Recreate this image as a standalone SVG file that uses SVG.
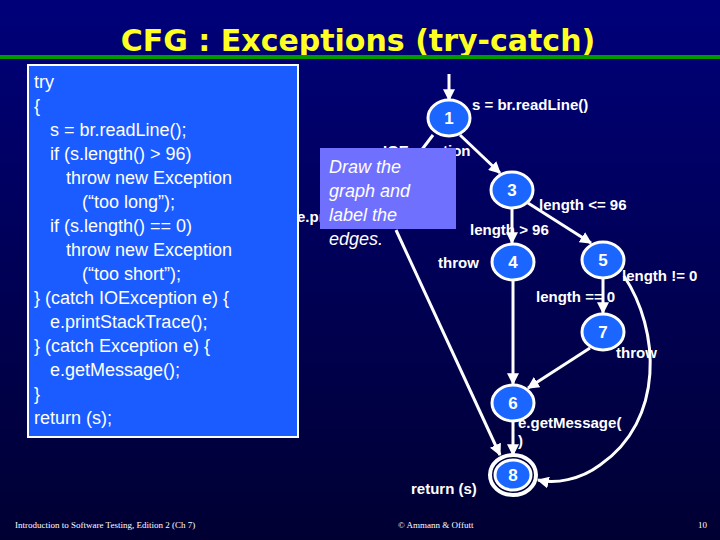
<svg xmlns="http://www.w3.org/2000/svg" width="720" height="540" viewBox="0 0 720 540">
<defs>
<linearGradient id="bg" x1="0" y1="0" x2="0" y2="1"><stop offset="0" stop-color="#00007a"/><stop offset="1" stop-color="#000033"/></linearGradient>
<marker id="ah" viewBox="0 0 10 10" refX="9" refY="5" markerWidth="4" markerHeight="4" orient="auto"><path d="M0,0L10,5L0,10z" fill="#fff"/></marker>
<style>
.n{fill:#1a66ff;stroke:#fff;stroke-width:3}
.nt{font-family:"Liberation Sans",Arial,sans-serif;font-weight:bold;font-size:17px;fill:#fff;text-anchor:middle}
.l{font-family:"Liberation Sans",Arial,sans-serif;font-weight:bold;font-size:15px;fill:#fff}
.c{font-family:"Liberation Sans",Arial,sans-serif;font-size:18px;fill:#fff}
.e{stroke:#fff;stroke-width:3;fill:none;marker-end:url(#ah)}
.f{font-family:"Liberation Serif",serif;font-size:9px;fill:#fff}
</style>
</defs>
<rect width="720" height="540" fill="url(#bg)"/>
<text x="358" y="51" text-anchor="middle" font-family="DejaVu Sans,sans-serif" font-weight="bold" font-size="30" fill="#ffff22">CFG : Exceptions (try-catch)</text>
<rect x="0" y="55" width="720" height="4" fill="#009900"/>
<g id="code">
<rect x="28" y="65" width="270" height="372" fill="#1a5cff" stroke="#fff" stroke-width="2"/>
<text class="c" x="34" y="88">try</text>
<text class="c" x="34" y="112">{</text>
<text class="c" x="50" y="136">s = br.readLine();</text>
<text class="c" x="50" y="160">if (s.length() &gt; 96)</text>
<text class="c" x="66" y="184">throw new Exception</text>
<text class="c" x="82" y="208">(“too long”);</text>
<text class="c" x="50" y="232">if (s.length() == 0)</text>
<text class="c" x="66" y="256">throw new Exception</text>
<text class="c" x="82" y="280">(“too short”);</text>
<text class="c" x="34" y="304">} (catch IOException e) {</text>
<text class="c" x="50" y="328">e.printStackTrace();</text>
<text class="c" x="34" y="352">} (catch Exception e) {</text>
<text class="c" x="50" y="376">e.getMessage();</text>
<text class="c" x="34" y="400">}</text>
<text class="c" x="34" y="424">return (s);</text>
</g>
<g id="connectors">
<line class="e" x1="449" y1="74" x2="449" y2="100"/>
<line class="e" x1="460" y1="135" x2="500" y2="173"/>
<line class="e" x1="433" y1="135" x2="395" y2="185"/>
<line x1="396" y1="230" x2="500" y2="455" class="e"/>
<line class="e" x1="512" y1="209" x2="512" y2="243"/>
<line class="e" x1="528" y1="203" x2="591" y2="243"/>
<line class="e" x1="603" y1="279" x2="603" y2="313"/>
<line class="e" x1="513" y1="281" x2="513" y2="384"/>
<line class="e" x1="590" y1="348" x2="528" y2="388"/>
<line class="e" x1="513" y1="422" x2="513" y2="455"/>
<path class="e" d="M624,276 C660,330 665,420 600,465 C580,480 555,484 538,480"/>
</g>
<g id="labels">
<text class="l" x="383" y="156">IOException</text>
<text class="l" x="297" y="222">e.printStackTrace()</text>
<text class="l" x="472" y="110">s = br.readLine()</text>
<text class="l" x="539" y="210">length &lt;= 96</text>
<text class="l" x="470" y="235">length &gt; 96</text>
<text class="l" x="438" y="268">throw</text>
<text class="l" x="622" y="281">length != 0</text>
<text class="l" x="536" y="302">length == 0</text>
<text class="l" x="616" y="358">throw</text>
<text class="l" x="518" y="428">e.getMessage(</text>
<text class="l" x="518" y="446">)</text>
<text class="l" x="411" y="494">return (s)</text>
</g>
<g id="n1"><ellipse class="n" cx="449" cy="118" rx="21" ry="18"/><text class="nt" x="449" y="124">1</text></g>
<g id="n3"><ellipse class="n" cx="512" cy="190" rx="21" ry="18"/><text class="nt" x="512" y="196">3</text></g>
<g id="n4"><ellipse class="n" cx="513" cy="262" rx="21" ry="18"/><text class="nt" x="513" y="268">4</text></g>
<g id="n5"><ellipse class="n" cx="603" cy="260" rx="21" ry="18"/><text class="nt" x="603" y="266">5</text></g>
<g id="n7"><ellipse class="n" cx="603" cy="332" rx="21" ry="18"/><text class="nt" x="603" y="338">7</text></g>
<g id="n6"><ellipse class="n" cx="513" cy="403" rx="21" ry="18"/><text class="nt" x="513" y="409">6</text></g>
<g id="n8"><ellipse cx="513" cy="475" rx="23" ry="20" fill="none" stroke="#fff" stroke-width="4"/><ellipse class="n" cx="513" cy="475" rx="18" ry="15" stroke-width="2"/><text class="nt" x="513" y="481">8</text></g>
<g id="note">
<rect x="320" y="148" width="136" height="81" fill="#7070ff"/>
<g font-family="Liberation Sans,Arial,sans-serif" font-style="italic" font-size="18" fill="#fff">
<text x="329" y="173">Draw the</text>
<text x="329" y="197">graph and</text>
<text x="329" y="221">label the</text>
<text x="329" y="245">edges.</text>
</g>
</g>
<text class="f" x="15" y="528">Introduction to Software Testing, Edition 2 (Ch 7)</text>
<text class="f" x="398" y="528">© Ammann &amp; Offutt</text>
<text class="f" x="698" y="528">10</text>
</svg>
